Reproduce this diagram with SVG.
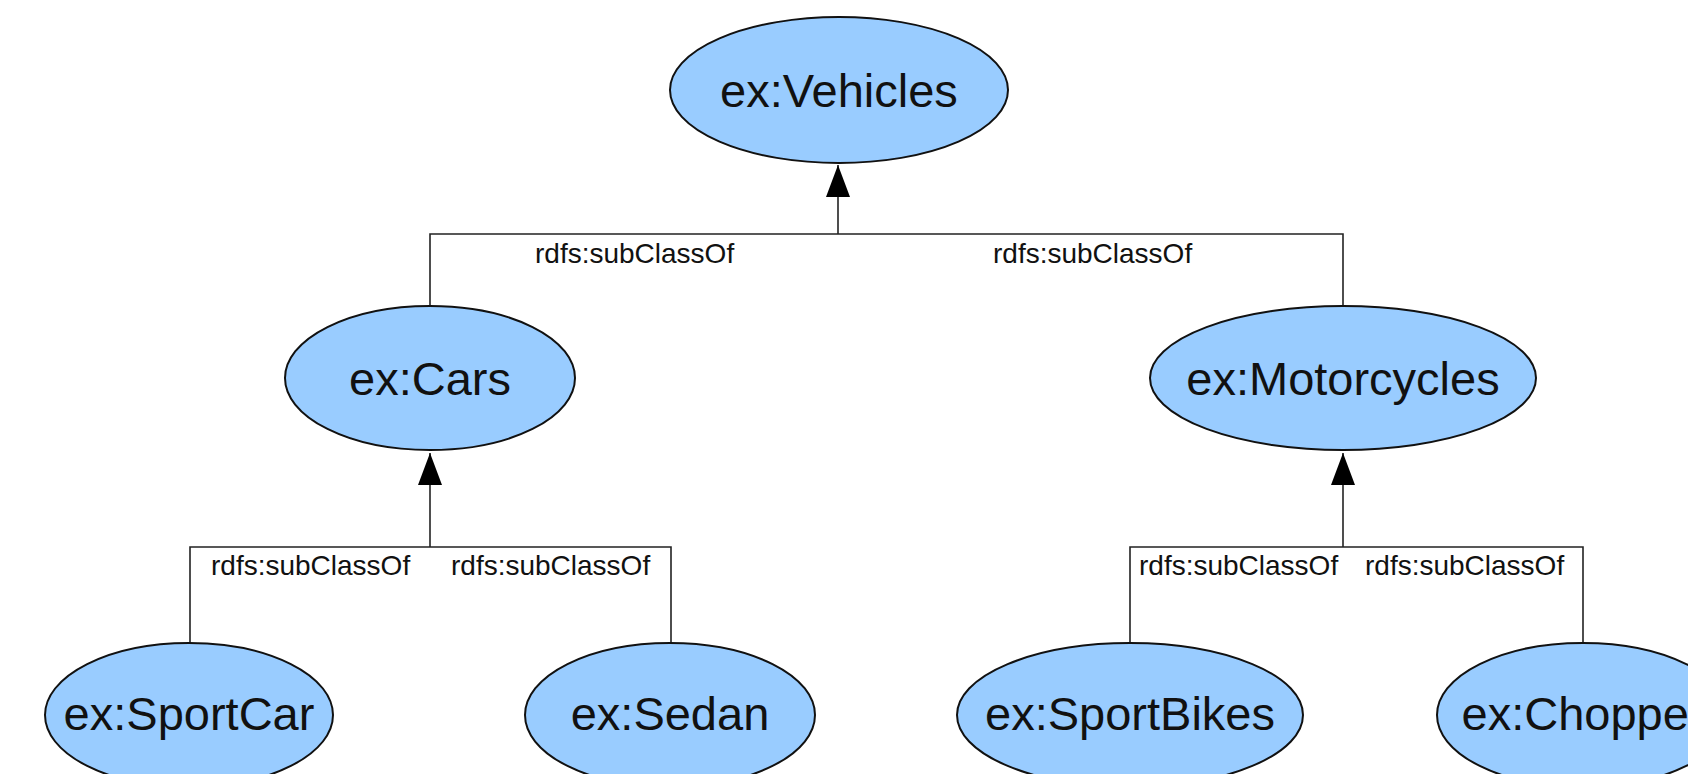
<svg xmlns="http://www.w3.org/2000/svg" width="1688" height="774" viewBox="0 0 1688 774">
  <defs>
    <style>
      .node ellipse { fill: #99ccff; stroke: #111; stroke-width: 2; }
      .node text { font-family: "Liberation Sans", Arial, sans-serif; font-size: 47px; fill: #111; text-anchor: middle; }
      .edge { fill: none; stroke: #222; stroke-width: 1.6; }
      .label { font-family: "Liberation Sans", Arial, sans-serif; font-size: 28px; fill: #111; }
    </style>
    <marker id="arrow" markerUnits="userSpaceOnUse" markerWidth="32" markerHeight="24" refX="32" refY="12" orient="auto">
      <path d="M0,0 L32,12 L0,24 z" fill="#000"/>
    </marker>
  </defs>
  <rect width="1688" height="774" fill="#fff"/>

  <!-- subclass connectors -->
  <g id="connectors">
    <path class="edge" d="M430,305 V234 H1343 V307"/>
    <path class="edge" d="M838,234 V165" marker-end="url(#arrow)"/>

    <path class="edge" d="M190,643 V547 H671 V643"/>
    <path class="edge" d="M430,547 V453" marker-end="url(#arrow)"/>

    <path class="edge" d="M1130,643 V547 H1583 V643"/>
    <path class="edge" d="M1343,547 V453" marker-end="url(#arrow)"/>

    <text class="label" x="535" y="263">rdfs:subClassOf</text>
    <text class="label" x="993" y="263">rdfs:subClassOf</text>
    <text class="label" x="211" y="575">rdfs:subClassOf</text>
    <text class="label" x="451" y="575">rdfs:subClassOf</text>
    <text class="label" x="1139" y="575">rdfs:subClassOf</text>
    <text class="label" x="1365" y="575">rdfs:subClassOf</text>
  </g>

  <g id="vehicles" class="node">
    <ellipse cx="839" cy="90" rx="169" ry="73"/>
    <text x="839" y="107">ex:Vehicles</text>
  </g>
  <g id="cars" class="node">
    <ellipse cx="430" cy="378" rx="145" ry="72"/>
    <text x="430" y="395">ex:Cars</text>
  </g>
  <g id="motorcycles" class="node">
    <ellipse cx="1343" cy="378" rx="193" ry="72"/>
    <text x="1343" y="395">ex:Motorcycles</text>
  </g>
  <g id="sportcar" class="node">
    <ellipse cx="189" cy="715" rx="144" ry="72"/>
    <text x="189" y="730">ex:SportCar</text>
  </g>
  <g id="sedan" class="node">
    <ellipse cx="670" cy="715" rx="145" ry="72"/>
    <text x="670" y="730">ex:Sedan</text>
  </g>
  <g id="sportbikes" class="node">
    <ellipse cx="1130" cy="715" rx="173" ry="72"/>
    <text x="1130" y="730">ex:SportBikes</text>
  </g>
  <g id="chopper" class="node">
    <ellipse cx="1583" cy="715" rx="146" ry="72"/>
    <text x="1583" y="730">ex:Chopper</text>
  </g>
</svg>
